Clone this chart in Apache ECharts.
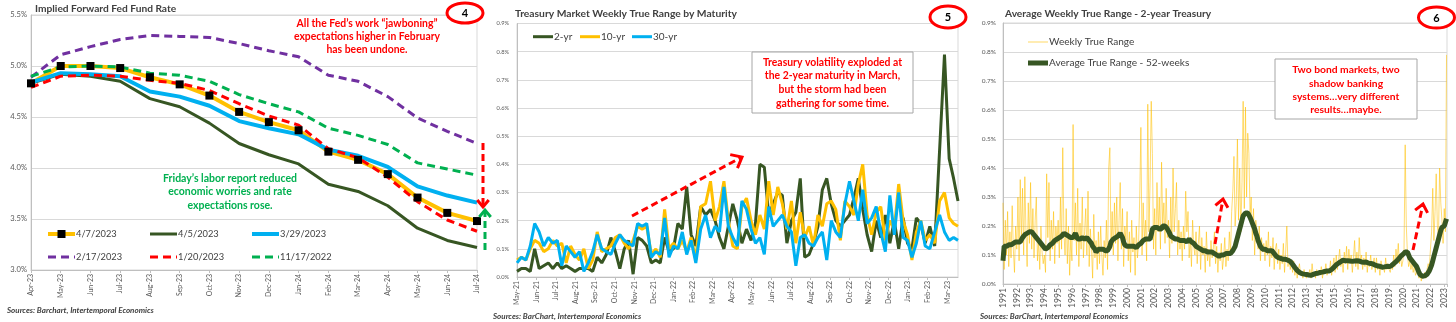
<!DOCTYPE html>
<html>
<head>
<meta charset="utf-8">
<script src="https://cdn.jsdelivr.net/npm/echarts@6/dist/echarts.min.js"></script>
<style>
  html, body { margin: 0; padding: 0; background: #ffffff; }
  #chart { width: 1456px; height: 322px; }
</style>
</head>
<body>
<div id="chart"></div>
<script>
// ---------- Panel 4: implied forward fed funds rate (percent) ----------
const fwdMonths = ['Apr-23','May-23','Jun-23','Jul-23','Aug-23','Sep-23','Oct-23','Nov-23',
                   'Dec-23','Jan-24','Feb-24','Mar-24','Apr-24','May-24','Jun-24','Jul-24'];
const fwd0407 = [4.83, 5.00, 5.00, 4.98, 4.89, 4.82, 4.71, 4.55, 4.45, 4.37, 4.16, 4.08, 3.94, 3.71, 3.56, 3.48];
const fwd0405 = [4.83, 4.92, 4.90, 4.85, 4.68, 4.60, 4.44, 4.24, 4.13, 4.04, 3.84, 3.77, 3.63, 3.41, 3.29, 3.22];
const fwd0329 = [4.84, 4.93, 4.92, 4.90, 4.75, 4.70, 4.61, 4.46, 4.39, 4.33, 4.18, 4.12, 4.01, 3.82, 3.73, 3.66];
const fwd0217 = [4.89, 5.11, 5.19, 5.26, 5.30, 5.29, 5.28, 5.22, 5.15, 5.09, 4.91, 4.85, 4.70, 4.49, 4.36, 4.24];
const fwd0120 = [4.79, 4.90, 4.91, 4.90, 4.86, 4.83, 4.76, 4.63, 4.51, 4.42, 4.19, 4.10, 3.91, 3.67, 3.49, 3.38];
const fwd1117 = [4.90, 4.99, 5.00, 4.99, 4.93, 4.91, 4.85, 4.72, 4.63, 4.55, 4.39, 4.32, 4.23, 4.05, 3.99, 3.93];
const fwdTicks = [3.0, 5.5, 0.5];

// ---------- Panel 5: weekly true range by maturity (percent), weekly from 1 May 2021 ----------
const weekStart = [2021, 4, 1];
const tr2yr = [
  0.02, 0.03, 0.03, 0.02, 0.10, 0.03, 0.04, 0.05, 0.03, 0.05,
  0.03, 0.04, 0.03, 0.02, 0.03, 0.03, 0.03, 0.02, 0.07, 0.05,
  0.08, 0.14, 0.09, 0.03, 0.10, 0.13, 0.01, 0.14, 0.13, 0.11,
  0.05, 0.06, 0.05, 0.14, 0.09, 0.10, 0.19, 0.17, 0.32, 0.15,
  0.11, 0.25, 0.22, 0.24, 0.20, 0.14, 0.10, 0.18, 0.26, 0.20,
  0.12, 0.17, 0.13, 0.19, 0.40, 0.39, 0.22, 0.26, 0.30, 0.29,
  0.12, 0.20, 0.23, 0.35, 0.07, 0.08, 0.12, 0.18, 0.31, 0.35,
  0.26, 0.20, 0.18, 0.20, 0.22, 0.28, 0.35, 0.24, 0.15, 0.09,
  0.20, 0.14, 0.22, 0.12, 0.20, 0.10, 0.21, 0.12, 0.10, 0.21,
  0.19, 0.12, 0.18, 0.11, 0.45, 0.79, 0.42, 0.35, 0.27
];
const tr10yr = [
  0.06, 0.07, 0.06, 0.10, 0.13, 0.12, 0.09, 0.10, 0.13, 0.11,
  0.12, 0.05, 0.11, 0.08, 0.06, 0.10, 0.03, 0.06, 0.16, 0.09,
  0.10, 0.11, 0.14, 0.15, 0.12, 0.10, 0.13, 0.18, 0.17, 0.18,
  0.08, 0.10, 0.07, 0.24, 0.10, 0.12, 0.10, 0.13, 0.09, 0.14,
  0.06, 0.25, 0.26, 0.34, 0.20, 0.25, 0.34, 0.20, 0.11, 0.10,
  0.25, 0.28, 0.20, 0.15, 0.22, 0.17, 0.34, 0.22, 0.32, 0.26,
  0.17, 0.27, 0.12, 0.23, 0.14, 0.18, 0.11, 0.22, 0.18, 0.26,
  0.27, 0.24, 0.13, 0.27, 0.25, 0.22, 0.33, 0.40, 0.22, 0.15,
  0.23, 0.25, 0.13, 0.20, 0.17, 0.33, 0.20, 0.15, 0.06, 0.16,
  0.20, 0.13, 0.15, 0.12, 0.27, 0.30, 0.21, 0.19, 0.18
];
const tr30yr = [
  0.05, 0.07, 0.06, 0.11, 0.19, 0.16, 0.11, 0.14, 0.12, 0.13,
  0.04, 0.11, 0.09, 0.07, 0.09, 0.02, 0.05, 0.09, 0.15, 0.10,
  0.09, 0.08, 0.12, 0.15, 0.13, 0.12, 0.11, 0.19, 0.18, 0.19,
  0.07, 0.09, 0.08, 0.21, 0.07, 0.11, 0.10, 0.16, 0.08, 0.13,
  0.05, 0.17, 0.22, 0.14, 0.18, 0.16, 0.32, 0.18, 0.14, 0.11,
  0.27, 0.24, 0.17, 0.12, 0.14, 0.08, 0.25, 0.18, 0.20, 0.22,
  0.18, 0.16, 0.04, 0.14, 0.15, 0.12, 0.11, 0.14, 0.16, 0.06,
  0.20, 0.16, 0.14, 0.26, 0.34, 0.27, 0.20, 0.31, 0.19, 0.21,
  0.25, 0.16, 0.09, 0.29, 0.15, 0.30, 0.14, 0.13, 0.07, 0.12,
  0.20, 0.11, 0.10, 0.16, 0.22, 0.16, 0.13, 0.14, 0.13
];
const pctTicks = [0, 0.9, 0.1];

// ---------- Panel 6: 2-year Treasury true range, monthly from Jan 1991 (percent) ----------
const rangeStartYear = 1991;
const weeklyRange = [
  0.28, 0.05, 0.22, 0.10, 0.25, 0.06, 0.18, 0.09, 0.27, 0.12, 0.04, 0.20, // 1991
  0.12, 0.30, 0.08, 0.36, 0.15, 0.33, 0.10, 0.37, 0.18, 0.06, 0.28, 0.14, // 1992
  0.35, 0.12, 0.26, 0.09, 0.22, 0.30, 0.08, 0.15, 0.05, 0.20, 0.11, 0.07, // 1993
  0.10, 0.04, 0.38, 0.16, 0.35, 0.08, 0.22, 0.12, 0.25, 0.07, 0.20, 0.14, // 1994
  0.22, 0.09, 0.30, 0.12, 0.47, 0.18, 0.10, 0.26, 0.07, 0.20, 0.03, 0.16, // 1995
  0.08, 0.55, 0.15, 0.28, 0.10, 0.33, 0.06, 0.21, 0.12, 0.30, 0.09, 0.18, // 1996
  0.26, 0.10, 0.32, 0.06, 0.19, 0.12, 0.02, 0.24, 0.09, 0.15, 0.05, 0.18, // 1997
  0.07, 0.20, 0.10, 0.03, 0.15, 0.09, 0.22, 0.05, 0.40, 0.47, 0.12, 0.25, // 1998
  0.10, 0.28, 0.14, 0.30, 0.08, 0.22, 0.35, 0.12, 0.26, 0.06, 0.20, 0.15, // 1999
  0.25, 0.08, 0.18, 0.04, 0.22, 0.11, 0.16, 0.03, 0.20, 0.09, 0.14, 0.30, // 2000
  0.54, 0.10, 0.28, 0.15, 0.22, 0.08, 0.62, 0.18, 0.35, 0.63, 0.45, 0.12, // 2001
  0.26, 0.10, 0.35, 0.18, 0.30, 0.12, 0.42, 0.20, 0.28, 0.14, 0.33, 0.16, // 2002
  0.22, 0.09, 0.30, 0.14, 0.40, 0.18, 0.26, 0.35, 0.10, 0.22, 0.12, 0.18, // 2003
  0.08, 0.20, 0.12, 0.32, 0.18, 0.25, 0.09, 0.16, 0.06, 0.22, 0.13, 0.10, // 2004
  0.18, 0.07, 0.14, 0.20, 0.05, 0.16, 0.10, 0.13, 0.04, 0.18, 0.08, 0.12, // 2005
  0.06, 0.15, 0.09, 0.12, 0.18, 0.07, 0.13, 0.04, 0.11, 0.08, 0.14, 0.05, // 2006
  0.09, 0.16, 0.06, 0.12, 0.08, 0.18, 0.10, 0.25, 0.32, 0.44, 0.20, 0.28, // 2007
  0.50, 0.22, 0.40, 0.18, 0.35, 0.63, 0.26, 0.61, 0.30, 0.52, 0.45, 0.24, // 2008
  0.30, 0.15, 0.26, 0.10, 0.22, 0.18, 0.12, 0.20, 0.08, 0.16, 0.11, 0.14, // 2009
  0.08, 0.15, 0.10, 0.18, 0.06, 0.13, 0.09, 0.16, 0.05, 0.12, 0.14, 0.07, // 2010
  0.12, 0.05, 0.10, 0.07, 0.14, 0.04, 0.11, 0.20, 0.06, 0.09, 0.05, 0.08, // 2011
  0.04, 0.08, 0.03, 0.06, 0.02, 0.05, 0.07, 0.03, 0.04, 0.02, 0.05, 0.03, // 2012
  0.02, 0.04, 0.03, 0.05, 0.02, 0.07, 0.03, 0.04, 0.02, 0.05, 0.03, 0.04, // 2013
  0.03, 0.06, 0.02, 0.05, 0.04, 0.07, 0.03, 0.05, 0.04, 0.08, 0.03, 0.06, // 2014
  0.09, 0.04, 0.10, 0.05, 0.08, 0.12, 0.06, 0.09, 0.04, 0.11, 0.07, 0.13, // 2015
  0.05, 0.12, 0.07, 0.10, 0.04, 0.09, 0.15, 0.06, 0.11, 0.05, 0.16, 0.08, // 2016
  0.10, 0.05, 0.09, 0.06, 0.11, 0.04, 0.08, 0.06, 0.10, 0.05, 0.07, 0.09, // 2017
  0.04, 0.09, 0.05, 0.07, 0.03, 0.08, 0.05, 0.06, 0.04, 0.09, 0.05, 0.07, // 2018
  0.05, 0.04, 0.07, 0.05, 0.10, 0.06, 0.12, 0.08, 0.14, 0.07, 0.10, 0.06, // 2019
  0.08, 0.12, 0.48, 0.20, 0.10, 0.06, 0.08, 0.05, 0.07, 0.04, 0.06, 0.03, // 2020
  0.03, 0.05, 0.02, 0.04, 0.01, 0.03, 0.02, 0.04, 0.02, 0.05, 0.07, 0.06, // 2021
  0.12, 0.18, 0.33, 0.15, 0.25, 0.38, 0.20, 0.16, 0.40, 0.28, 0.22, 0.14, // 2022
  0.26, 0.18, 0.79                                                        // 2023
];
const avgRange52w = [
  0.080, 0.130, 0.135, 0.130, 0.135, 0.135, 0.140, 0.135, 0.140, 0.140, 0.140, 0.145, // 1991
  0.140, 0.145, 0.140, 0.145, 0.150, 0.160, 0.165, 0.170, 0.175, 0.175, 0.180, 0.180, // 1992
  0.180, 0.180, 0.175, 0.170, 0.165, 0.160, 0.155, 0.150, 0.145, 0.140, 0.135, 0.130, // 1993
  0.125, 0.120, 0.120, 0.125, 0.130, 0.135, 0.140, 0.140, 0.145, 0.150, 0.150, 0.155, // 1994
  0.155, 0.160, 0.165, 0.165, 0.170, 0.175, 0.175, 0.170, 0.170, 0.165, 0.160, 0.160, // 1995
  0.155, 0.160, 0.165, 0.175, 0.165, 0.155, 0.150, 0.155, 0.160, 0.160, 0.160, 0.155, // 1996
  0.160, 0.160, 0.155, 0.150, 0.145, 0.140, 0.130, 0.125, 0.120, 0.110, 0.115, 0.120, // 1997
  0.120, 0.120, 0.115, 0.120, 0.120, 0.115, 0.120, 0.115, 0.120, 0.130, 0.145, 0.150, // 1998
  0.155, 0.160, 0.160, 0.160, 0.165, 0.170, 0.175, 0.170, 0.160, 0.145, 0.135, 0.130, // 1999
  0.130, 0.135, 0.130, 0.130, 0.130, 0.125, 0.130, 0.130, 0.125, 0.130, 0.135, 0.135, // 2000
  0.140, 0.145, 0.150, 0.150, 0.155, 0.150, 0.155, 0.150, 0.155, 0.170, 0.190, 0.195, // 2001
  0.195, 0.190, 0.195, 0.190, 0.190, 0.195, 0.190, 0.200, 0.205, 0.200, 0.195, 0.190, // 2002
  0.185, 0.175, 0.165, 0.165, 0.160, 0.160, 0.155, 0.160, 0.155, 0.150, 0.150, 0.150, // 2003
  0.150, 0.145, 0.150, 0.150, 0.145, 0.150, 0.155, 0.150, 0.145, 0.145, 0.140, 0.135, // 2004
  0.130, 0.130, 0.125, 0.125, 0.120, 0.120, 0.115, 0.115, 0.115, 0.110, 0.110, 0.110, // 2005
  0.110, 0.110, 0.110, 0.105, 0.105, 0.100, 0.100, 0.100, 0.095, 0.100, 0.100, 0.100, // 2006
  0.100, 0.105, 0.105, 0.110, 0.105, 0.110, 0.105, 0.110, 0.115, 0.120, 0.130, 0.145, // 2007
  0.160, 0.175, 0.190, 0.205, 0.220, 0.235, 0.240, 0.245, 0.250, 0.245, 0.240, 0.230, // 2008
  0.220, 0.210, 0.200, 0.190, 0.175, 0.165, 0.150, 0.140, 0.130, 0.125, 0.120, 0.120, // 2009
  0.120, 0.115, 0.115, 0.120, 0.115, 0.120, 0.115, 0.110, 0.105, 0.100, 0.095, 0.090, // 2010
  0.090, 0.090, 0.088, 0.085, 0.085, 0.088, 0.085, 0.080, 0.082, 0.080, 0.078, 0.075, // 2011
  0.068, 0.063, 0.057, 0.052, 0.047, 0.043, 0.040, 0.038, 0.036, 0.035, 0.034, 0.034, // 2012
  0.033, 0.032, 0.031, 0.030, 0.030, 0.031, 0.033, 0.035, 0.036, 0.035, 0.037, 0.038, // 2013
  0.040, 0.040, 0.041, 0.042, 0.043, 0.044, 0.045, 0.044, 0.045, 0.047, 0.050, 0.054, // 2014
  0.058, 0.062, 0.066, 0.069, 0.072, 0.075, 0.077, 0.080, 0.082, 0.081, 0.080, 0.079, // 2015
  0.080, 0.081, 0.079, 0.080, 0.078, 0.080, 0.079, 0.081, 0.080, 0.078, 0.079, 0.077, // 2016
  0.076, 0.077, 0.075, 0.074, 0.076, 0.073, 0.072, 0.073, 0.071, 0.070, 0.069, 0.067, // 2017
  0.065, 0.063, 0.062, 0.060, 0.061, 0.059, 0.058, 0.060, 0.059, 0.060, 0.061, 0.060, // 2018
  0.060, 0.061, 0.063, 0.066, 0.070, 0.073, 0.077, 0.080, 0.085, 0.090, 0.095, 0.100, // 2019
  0.102, 0.105, 0.110, 0.115, 0.110, 0.100, 0.090, 0.085, 0.080, 0.075, 0.070, 0.065, // 2020
  0.060, 0.050, 0.040, 0.032, 0.028, 0.027, 0.027, 0.028, 0.030, 0.033, 0.038, 0.045, // 2021
  0.055, 0.065, 0.080, 0.095, 0.110, 0.125, 0.140, 0.155, 0.170, 0.185, 0.195, 0.200, // 2022
  0.200, 0.205, 0.225                                                                // 2023
];
const yearTicks = [1991, 2023.2, 1];

// ---------- helpers ----------
const FONT = 'Lato';
const GRID_LINE = '#d9d9d9';
const AXIS_LINE = '#bfbfbf';
const LABEL = '#595959';
const TEXT = '#404040';
const MON = ['Jan','Feb','Mar','Apr','May','Jun','Jul','Aug','Sep','Oct','Nov','Dec'];
const pctLabel = v => v.toFixed(1) + '%';

// font size that makes a sample string take a given width in pixels
const measureCtx = document.createElement('canvas').getContext('2d');
function fitSize(sample, style, width) {
  measureCtx.font = (style ? style + ' ' : '') + '100px ' + FONT;
  return Math.round(1000 * width / measureCtx.measureText(sample).width) / 10;
}

// weekly dates -> fractional months since the start month
function weekToMonthPos(i) {
  const t = Date.UTC(weekStart[0], weekStart[1], weekStart[2]) + i * 7 * 86400000;
  const d = new Date(t);
  const y = d.getUTCFullYear(), m = d.getUTCMonth(), day = d.getUTCDate();
  const dim = new Date(Date.UTC(y, m + 1, 0)).getUTCDate();
  return (y - weekStart[0]) * 12 + (m - weekStart[1]) + (day - 1) / dim;
}
function monthPosLabel(v) {
  if (Math.abs(v - Math.round(v)) > 1e-6) return '';
  const k = weekStart[1] + Math.round(v);
  const yy = (weekStart[0] + Math.floor(k / 12)) % 100;
  return MON[k % 12] + '-' + String(yy).padStart(2, '0');
}
const weekly = arr => arr.map((v, i) => [weekToMonthPos(i), v]);
const monthly = arr => arr.map((v, i) => [rangeStartYear + i / 12, v]);

// type sizes
const yLab1 = fitSize('5.5%', '', 16.6);
const yLab2 = fitSize('0.9%', '', 12.5);
const yLab3 = fitSize('0.9%', '', 14.3);
const xLab12 = fitSize('Apr-23', '', 21.7);
const xLab3 = fitSize('1991', '', 20);
const titleSize1 = fitSize('Implied Forward Fed Fund Rate', 'bold', 142);
const titleSize2 = fitSize('Treasury Market Weekly True Range by Maturity', 'bold', 222);
const titleSize3 = fitSize('Average Weekly True Range - 2-year Treasury', 'bold', 207);
const srcSize = fitSize('Sources: Barchart, Intertemporal Economics', 'italic bold', 147);
const note1Size = fitSize('All the Fed\u2019s work \u201cjawboning\u201d', 'bold', 141);
const note2Size = fitSize('Friday\u2019s labor report reduced', 'bold', 134);
const note3Size = fitSize('Treasury volatility exploded at', 'bold', 139);
const note4Size = fitSize('systems\u2026very different', 'bold', 107);
const leg1Size = fitSize('3/29/2023', '', 46);
const leg2Size = fitSize('30-yr', '', 24);
const leg3Size = fitSize('Average True Range - 52-weeks', '', 141);

function yAxisFor(gridIndex, ticks, margin, size) {
  return {
    gridIndex, type: 'value', min: ticks[0], max: ticks[1], interval: ticks[2],
    axisLine: { show: true, lineStyle: { color: AXIS_LINE } },
    axisTick: { show: false },
    splitLine: { show: true, lineStyle: { color: GRID_LINE, width: 1 } },
    axisLabel: { color: LABEL, fontSize: size, fontFamily: FONT, margin, formatter: pctLabel }
  };
}
const xLabelStyle = size => ({ color: LABEL, fontSize: size, fontFamily: FONT, rotate: 90, margin: 4 });

function lineSeries(name, data, color, width, x, y, extra) {
  return Object.assign({
    name, type: 'line', data, xAxisIndex: x, yAxisIndex: y,
    symbol: 'none', showSymbol: false, silent: true,
    lineStyle: { color, width }, itemStyle: { color }
  }, extra || {});
}

// legend key: short line sample (optionally dashed / with a square marker) plus its label
function key(x, cy, len, color, width, dash, marker, label, size) {
  const out = [
    { type: 'line', silent: true, z: 100, shape: { x1: x, y1: cy, x2: x + len, y2: cy },
      style: { stroke: color, lineWidth: width, lineDash: dash || null, lineCap: 'butt' } }
  ];
  if (marker) {
    out.push({ type: 'rect', silent: true, z: 101, shape: { x: x + len / 2 - 4, y: cy - 4, width: 8, height: 8 },
      style: { fill: '#000000' } });
  }
  out.push({ type: 'text', silent: true, z: 100, x: x + len + 1, y: cy,
    style: { text: label, fill: TEXT, font: size + 'px ' + FONT, align: 'left', verticalAlign: 'middle' } });
  return out;
}
function dashedArrow(x1, y1, x2, y2, color, head) {
  const a = Math.atan2(y2 - y1, x2 - x1);
  const s = 0.78 * Math.PI;
  const p1 = [x2 + head * Math.cos(a + s), y2 + head * Math.sin(a + s)];
  const p2 = [x2 + head * Math.cos(a - s), y2 + head * Math.sin(a - s)];
  return [
    { type: 'line', silent: true, z: 100, shape: { x1, y1, x2: x2 - 2 * Math.cos(a), y2: y2 - 2 * Math.sin(a) },
      style: { stroke: color, lineWidth: 3, lineDash: [7, 4], fill: null } },
    { type: 'polyline', silent: true, z: 100, shape: { points: [p1, [x2, y2], p2] },
      style: { stroke: color, lineWidth: 3, fill: null } }
  ];
}
function badge(cx, cy, rx, ry, label) {
  return [
    { type: 'ellipse', silent: true, z: 100, shape: { cx, cy, rx, ry },
      style: { stroke: '#ff0000', lineWidth: 3, fill: '#ffffff' } },
    { type: 'text', silent: true, z: 101, x: cx, y: cy + 0.5,
      style: { text: label, fill: '#000', font: 'bold 11px ' + FONT, align: 'center', verticalAlign: 'middle' } }
  ];
}
function textAt(x, y, text, font, fill, align, lh) {
  return { type: 'text', silent: true, x, y, z: 100,
    style: { text, font, fill, align: align || 'left', verticalAlign: 'middle', lineHeight: lh || 13 } };
}

const RED = '#ff0000', GREEN = '#00b050';
const ORANGE = '#ffc000', DKGREEN = '#375623', BLUE = '#00b0f0', PURPLE = '#7030a0';
const DASH = [8, 5];
const bold = s => 'bold ' + s + 'px ' + FONT;
const srcFont = 'italic bold ' + srcSize + 'px ' + FONT;

const chart = echarts.init(document.getElementById('chart'), null, { renderer: 'canvas' });
chart.setOption({
  animation: false,
  backgroundColor: '#ffffff',
  grid: [
    { left: 31, top: 15, width: 446, height: 255, show: true, borderColor: GRID_LINE, borderWidth: 1, outerBoundsMode: 'none', containLabel: false },
    { left: 517, top: 23.5, width: 441, height: 253.5, show: true, borderColor: GRID_LINE, borderWidth: 1, outerBoundsMode: 'none', containLabel: false },
    { left: 1003, top: 23, width: 444, height: 261, show: true, borderColor: GRID_LINE, borderWidth: 1, outerBoundsMode: 'none', containLabel: false }
  ],
  xAxis: [
    { gridIndex: 0, type: 'category', data: fwdMonths, boundaryGap: false,
      axisLine: { lineStyle: { color: AXIS_LINE } },
      axisTick: { show: true, length: 3, lineStyle: { color: AXIS_LINE } },
      axisLabel: Object.assign({ interval: 0 }, xLabelStyle(xLab12)), splitLine: { show: false } },
    { gridIndex: 1, type: 'value', min: 0, max: weekToMonthPos(tr2yr.length - 1), interval: 1,
      axisLine: { lineStyle: { color: AXIS_LINE } },
      axisTick: { show: true, length: 3, lineStyle: { color: AXIS_LINE } },
      axisLabel: Object.assign({ formatter: monthPosLabel, showMaxLabel: false }, xLabelStyle(xLab12)), splitLine: { show: false } },
    { gridIndex: 2, type: 'value', min: yearTicks[0], max: yearTicks[1], interval: yearTicks[2],
      axisLine: { lineStyle: { color: AXIS_LINE } },
      axisTick: { show: true, length: 3, lineStyle: { color: AXIS_LINE } },
      axisLabel: Object.assign({ formatter: v => Math.abs(v - Math.round(v)) < 1e-6 ? String(Math.round(v)) : '' }, xLabelStyle(xLab3)),
      splitLine: { show: false } }
  ],
  yAxis: [ yAxisFor(0, fwdTicks, 4, yLab1), yAxisFor(1, pctTicks, 8, yLab2), yAxisFor(2, pctTicks, 7, yLab3) ],
  series: [
    // panel 4
    lineSeries('4/7/2023', fwd0407, ORANGE, 4, 0, 0, {
      symbol: 'rect', showSymbol: true, symbolSize: 8, itemStyle: { color: '#000000' }, z: 3 }),
    lineSeries('4/5/2023', fwd0405, DKGREEN, 3, 0, 0),
    lineSeries('3/29/2023', fwd0329, BLUE, 4, 0, 0),
    lineSeries('2/17/2023', fwd0217, PURPLE, 3, 0, 0, { lineStyle: { color: PURPLE, width: 3, type: DASH } }),
    lineSeries('1/20/2023', fwd0120, RED, 3, 0, 0, { lineStyle: { color: RED, width: 3, type: DASH } }),
    lineSeries('11/17/2022', fwd1117, GREEN, 3, 0, 0, { lineStyle: { color: GREEN, width: 3, type: DASH } }),
    // panel 5
    lineSeries('2-yr', weekly(tr2yr), DKGREEN, 3, 1, 1),
    lineSeries('10-yr', weekly(tr10yr), ORANGE, 3, 1, 1),
    lineSeries('30-yr', weekly(tr30yr), BLUE, 3, 1, 1),
    // panel 6
    lineSeries('Weekly True Range', monthly(weeklyRange), ORANGE, 1, 2, 2, {
      lineStyle: { color: ORANGE, width: 1, opacity: 0.55 } }),
    lineSeries('Average True Range - 52-weeks', monthly(avgRange52w), DKGREEN, 5, 2, 2)
  ],
  graphic: [
    // titles
    textAt(35, 9, 'Implied Forward Fed Fund Rate', bold(titleSize1), TEXT),
    textAt(515, 14, 'Treasury Market Weekly True Range by Maturity', bold(titleSize2), TEXT),
    textAt(1005, 14, 'Average Weekly True Range - 2-year Treasury', bold(titleSize3), TEXT),
    // sources
    textAt(7, 310, 'Sources: Barchart, Intertemporal Economics', srcFont, TEXT),
    textAt(493, 316, 'Sources: BarChart, Intertemporal Economics', srcFont, TEXT),
    textAt(980, 316, 'Sources: BarChart, Intertemporal Economics', srcFont, TEXT),
    // panel 4 legend
    ...key(48, 234, 27, ORANGE, 4, null, true, '4/7/2023', leg1Size),
    ...key(150, 234, 27, DKGREEN, 3, null, false, '4/5/2023', leg1Size),
    ...key(252, 234, 27, BLUE, 4, null, false, '3/29/2023', leg1Size),
    ...key(48, 257, 27, PURPLE, 3, DASH, false, '2/17/2023', leg1Size),
    ...key(150, 257, 27, RED, 3, DASH, false, '1/20/2023', leg1Size),
    ...key(252, 257, 27, GREEN, 3, DASH, false, '11/17/2022', leg1Size),
    // panel 5 legend
    ...key(533, 36.7, 20, DKGREEN, 3, null, false, '2-yr', leg2Size),
    ...key(580, 36.7, 20, ORANGE, 3, null, false, '10-yr', leg2Size),
    ...key(632, 36.7, 20, BLUE, 3, null, false, '30-yr', leg2Size),
    // panel 6 legend
    ...key(1028, 42, 20, '#ffe699', 1.5, null, false, 'Weekly True Range', leg3Size),
    ...key(1028, 63, 20, DKGREEN, 5, null, false, 'Average True Range - 52-weeks', leg3Size),
    // panel 4 notes
    textAt(367, 36.5, 'All the Fed\u2019s work \u201cjawboning\u201d\nexpectations higher in February\nhas been undone.', bold(note1Size), RED, 'center', 13.3),
    textAt(230, 192, 'Friday\u2019s labor report reduced\neconomic worries and rate\nexpectations rose.', bold(note2Size), GREEN, 'center', 13.7),
    ...dashedArrow(483, 143, 483, 207, RED, 9),
    ...dashedArrow(485, 250, 485, 210, GREEN, 9),
    ...badge(465, 13, 18, 10, '4'),
    // panel 5 notes
    { type: 'rect', silent: true, z: 99, shape: { x: 752, y: 52, width: 161, height: 61 },
      style: { stroke: '#a6a6a6', lineWidth: 1, fill: '#ffffff' } },
    textAt(832.5, 83, 'Treasury volatility exploded at\nthe 2-year maturity in March,\nbut the storm had been\ngathering for some time.', bold(note3Size), RED, 'center', 13.7),
    ...dashedArrow(632, 216, 742, 157, RED, 12),
    ...badge(948, 17, 18, 11, '5'),
    // panel 6 notes
    { type: 'rect', silent: true, z: 99, shape: { x: 1275, y: 59, width: 142, height: 60 },
      style: { stroke: '#a6a6a6', lineWidth: 1, fill: '#ffffff' } },
    textAt(1346, 90, 'Two bond markets, two\nshadow banking\nsystems\u2026very different\nresults\u2026maybe.', bold(note4Size), RED, 'center', 13.3),
    ...dashedArrow(1215, 244, 1223, 199, RED, 10),
    ...dashedArrow(1413, 250, 1423, 204, RED, 10),
    ...badge(1436.5, 17.5, 18, 10.5, '6')
  ]
});
</script>
</body>
</html>
